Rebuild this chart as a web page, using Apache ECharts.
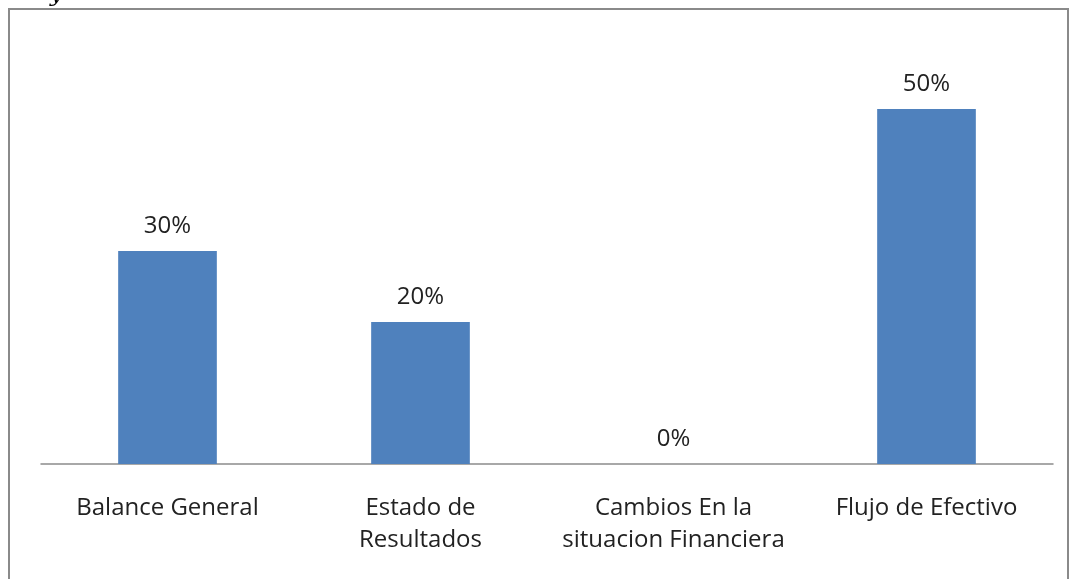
<!DOCTYPE html>
<html>
<head>
<meta charset="utf-8">
<script src="https://cdn.jsdelivr.net/npm/echarts@6/dist/echarts.min.js"></script>
<style>
  html, body { margin: 0; padding: 0; background: #fff; }
  #box { width: 1073px; height: 579px; }
</style>
</head>
<body>
<div id="box"></div>
<script>
var categories = [
  "Balance General",
  "Estado de\nResultados",
  "Cambios En la\nsituacion Financiera",
  "Flujo de Efectivo",
];
var percentValues = [30, 20, 0, 50];

var chart = echarts.init(document.getElementById("box"));
var option = {
  backgroundColor: "#fff",
  animation: false,
  graphic: [
    {
      type: "rect",
      shape: { x: 9, y: 9, width: 1059, height: 620 },
      style: { fill: "none", stroke: "#8a8a8a", lineWidth: 2 },
    },
    {
      type: "text",
      left: 50,
      top: -16,
      style: { text: "y", font: "italic 22px 'DejaVu Serif'", fill: "#000" },
    },
  ],
  grid: { left: 41, right: 20, top: 38, bottom: 115 },
  xAxis: {
    type: "category",
    data: categories,
    axisTick: { show: false },
    axisLine: { lineStyle: { color: "#8c8c8c", width: 1.5 } },
    axisLabel: {
      interval: 0,
      margin: 28,
      fontFamily: "Open Sans",
      fontSize: 24,
      lineHeight: 32,
      color: "#222",
    },
  },
  yAxis: {
    type: "value",
    min: 0,
    max: 60,
    show: false,
    splitLine: { show: false },
  },
  series: [
    {
      type: "bar",
      data: percentValues,
      barWidth: "39%",
      itemStyle: { color: "#4f81bd" },
      label: {
        show: true,
        position: "top",
        distance: 13,
        formatter: "{c}%",
        fontFamily: "Open Sans",
        fontSize: 24,
        color: "#222",
      },
    },
  ],
};
chart.setOption(option);
</script>
</body>
</html>
